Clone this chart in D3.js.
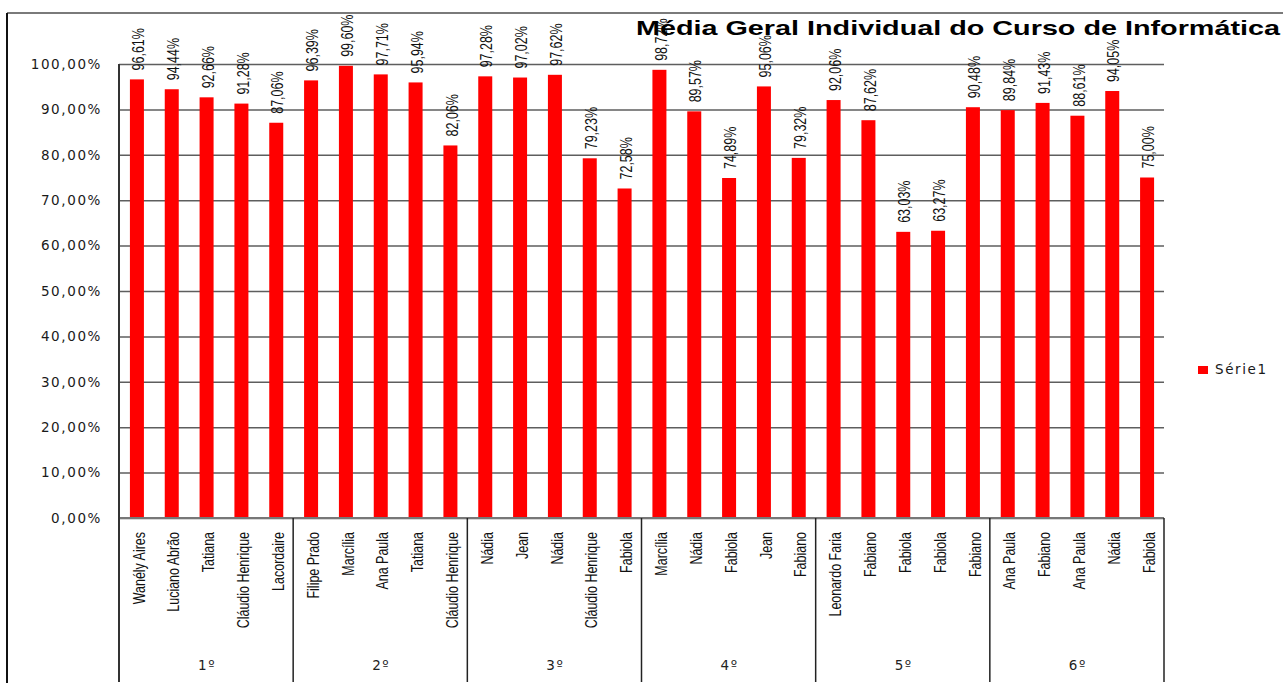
<!DOCTYPE html>
<html>
<head>
<meta charset="utf-8">
<title>Média Geral Individual do Curso de Informática</title>
<script src="https://cdn.jsdelivr.net/npm/d3@7"></script>
<style>
    body { margin: 0; background: #fff; }
    .narrow { font-family: "Liberation Sans", Arial, sans-serif; }
    .wide { font-family: "DejaVu Sans", Verdana, sans-serif; letter-spacing: 1.6px; }
</style>
</head>
<body>
<div id="chart"></div>
<script>

    var names = ["Wanély Aires", "Luciano Abrão", "Tatiana", "Cláudio Henrique", "Lacordaire",
                 "Filipe Prado", "Marcília", "Ana Paula", "Tatiana", "Cláudio Henrique",
                 "Nádia", "Jean", "Nádia", "Cláudio Henrique", "Fabiola",
                 "Marcília", "Nádia", "Fabiola", "Jean", "Fabiano",
                 "Leonardo Faria", "Fabiano", "Fabiola", "Fabiola", "Fabiano",
                 "Ana Paula", "Fabiano", "Ana Paula", "Nádia", "Fabiola"];
    var groups = ["1º", "2º", "3º", "4º", "5º", "6º"];
    var perGroup = 5;
    var values = [96.61, 94.44, 92.66, 91.28, 87.06,
                  96.39, 99.60, 97.71, 95.94, 82.06,
                  97.28, 97.02, 97.62, 79.23, 72.58,
                  98.72, 89.57, 74.89, 95.06, 79.32,
                  92.06, 87.62, 63.03, 63.27, 90.48,
                  89.84, 91.43, 88.61, 94.05, 75.00];
    var yTicks = [0, 10, 20, 30, 40, 50, 60, 70, 80, 90, 100];

    var width = 1283, height = 683;
    var plotLeft = 119, plotRight = 1164, plotTop = 64, plotBottom = 518;
    var squeeze = 0.78; // narrow look for the rotated labels

    var svg = d3.select("#chart").append("svg")
        .attr("width", width)
        .attr("height", height);

    // outer chart frame
    svg.append("line").attr("x1", 7).attr("x2", width).attr("y1", 13).attr("y2", 13)
        .attr("stroke", "#7a7a7a").attr("stroke-width", 2);
    svg.append("line").attr("x1", 7).attr("x2", 7).attr("y1", 13).attr("y2", height)
        .attr("stroke", "#111").attr("stroke-width", 2);

    var x = d3.scaleBand()
        .domain(d3.range(values.length))
        .range([plotLeft, plotRight]);

    var y = d3.scaleLinear()
        .domain([0, 100])
        .range([plotBottom, plotTop]);

    var fmt = function(v) { return v.toFixed(2).replace(".", ",") + "%"; };

    // gridlines + tick labels
    var yAxis = svg.append("g")
        .attr("transform", "translate(" + plotLeft + ",0)")
        .call(d3.axisLeft(y).tickValues(yTicks).tickSize(-(plotRight - plotLeft)).tickFormat(function(d) { return fmt(d); }));
    yAxis.select(".domain").remove();
    yAxis.selectAll(".tick line")
        .attr("stroke", "#5e5e5e")
        .attr("stroke-width", 1.5);
    yAxis.selectAll(".tick text")
        .attr("class", "wide")
        .attr("x", -17)
        .attr("font-size", 13.5)
        .attr("fill", "#1a1a1a");

    // bars
    var barW = 14;
    svg.selectAll("rect.bar")
        .data(values)
        .enter()
        .append("rect")
            .attr("class", "bar")
            .attr("x", function(d, i) { return x(i) + x.bandwidth() / 2 - barW / 2 + 0.5; })
            .attr("y", function(d) { return y(d); })
            .attr("width", barW)
            .attr("height", function(d) { return y(0) - y(d); })
            .attr("fill", "#ff0000");

    // axis lines
    svg.append("line").attr("x1", plotLeft).attr("x2", plotRight).attr("y1", plotBottom).attr("y2", plotBottom)
        .attr("stroke", "#777").attr("stroke-width", 2);
    svg.append("line").attr("x1", plotLeft).attr("x2", plotLeft).attr("y1", plotTop).attr("y2", 682)
        .attr("stroke", "#333").attr("stroke-width", 2);

    // group separators
    for (var g = 1; g <= groups.length; g++) {
        var gx = x(g * perGroup - 1) + x.bandwidth();
        svg.append("line").attr("x1", gx).attr("x2", gx).attr("y1", plotBottom).attr("y2", 682)
            .attr("stroke", "#222").attr("stroke-width", 1.5);
    }

    // data labels
    svg.selectAll("text.val")
        .data(values)
        .enter()
        .append("text")
            .attr("class", "val narrow")
            .attr("transform", function(d, i) {
                return "translate(" + (x(i) + x.bandwidth() / 2 + 2) + "," + (y(d) - 9) + ") rotate(-90) scale(" + squeeze + ",1)";
            })
            .attr("dy", "0.35em")
            .attr("font-size", 16)
            .attr("fill", "#111")
            .text(function(d) { return fmt(d); });

    // category labels
    svg.selectAll("text.cat")
        .data(names)
        .enter()
        .append("text")
            .attr("class", "cat narrow")
            .attr("transform", function(d, i) {
                return "translate(" + (x(i) + x.bandwidth() / 2 + 2.5) + ",532) rotate(-90) scale(" + squeeze + ",1)";
            })
            .attr("dy", "0.35em")
            .attr("text-anchor", "end")
            .attr("font-size", 16)
            .attr("fill", "#111")
            .text(function(d) { return d; });

    // group labels
    svg.selectAll("text.grp")
        .data(groups)
        .enter()
        .append("text")
            .attr("class", "grp wide")
            .attr("x", function(d, i) { return x(i * perGroup) + x.bandwidth() * perGroup / 2 + 1; })
            .attr("y", 670)
            .attr("text-anchor", "middle")
            .attr("font-size", 13.5)
            .attr("fill", "#222")
            .text(function(d) { return d; });

    // legend
    svg.append("rect").attr("x", 1198).attr("y", 366).attr("width", 10).attr("height", 8).attr("fill", "#ff0000");
    svg.append("text")
        .attr("class", "wide")
        .attr("x", 1215).attr("y", 374)
        .attr("font-size", 13.5)
        .attr("fill", "#1a1a1a")
        .text("Série1");

    // title
    svg.append("text")
        .attr("x", 636).attr("y", 35)
        .attr("font-family", "'Liberation Sans', Arial, sans-serif")
        .attr("font-weight", "bold")
        .attr("font-size", 20.5)
        .attr("textLength", 644)
        .attr("lengthAdjust", "spacingAndGlyphs")
        .attr("fill", "#000")
        .text("Média Geral Individual do Curso de Informática");

</script>
</body>
</html>
